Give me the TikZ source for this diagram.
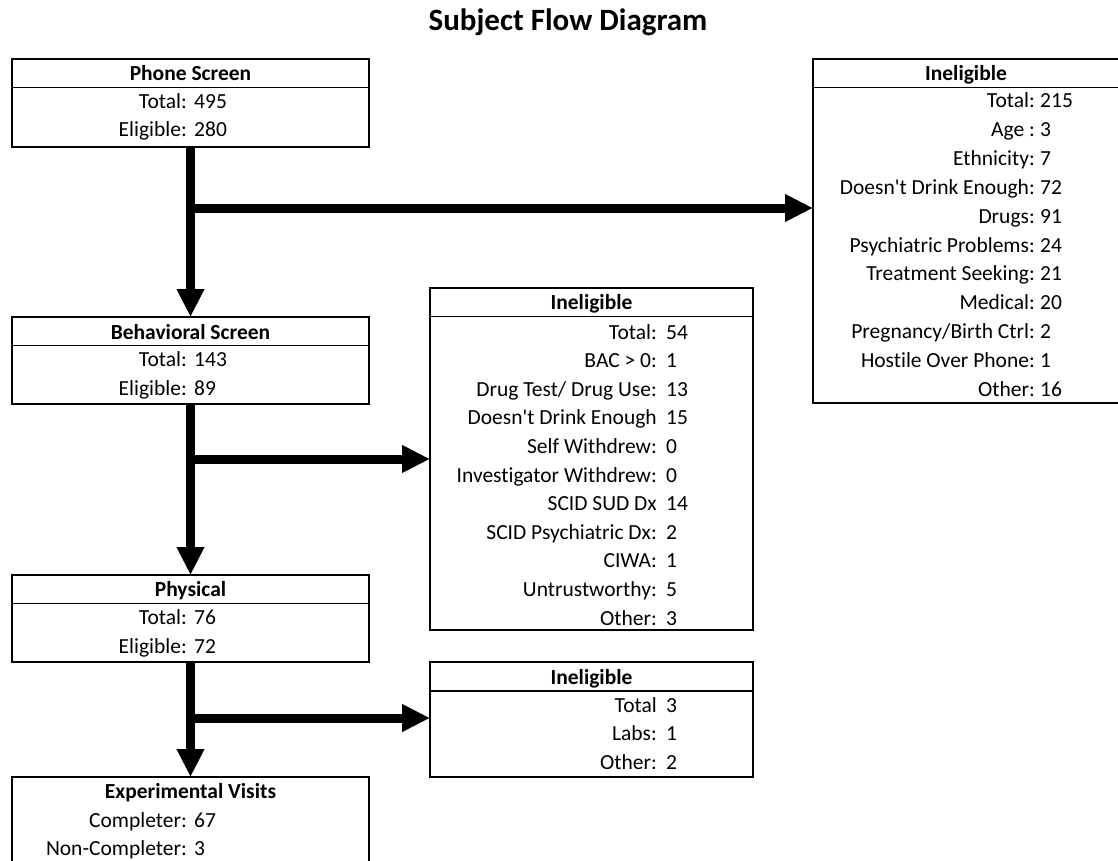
\documentclass[tikz,border=0pt]{standalone}
\usepackage{fontspec}
\setmainfont{Carlito}[Ligatures={TeXOff,NoCommon}]
\usetikzlibrary{arrows.meta,positioning}

\begin{document}
\begin{tikzpicture}[x=1pt,y=-1pt,
  every node/.style={font=\fontsize{21.5}{25}\selectfont, inner sep=0pt},
  stagebox/.style={draw, line width=2.8pt, outer sep=0pt, anchor=north west},
  headtxt/.style={font=\fontsize{21.5}{25}\selectfont\bfseries, anchor=base},
  labtxt/.style={anchor=base east},
  valtxt/.style={anchor=base west},
  sepline/.style={line width=1.2pt},
  flowarrow/.style={line width=9pt, -{Triangle[width=26pt,length=28pt]}}]
  \useasboundingbox (0,0) rectangle (1118,861);
  \clip (0,0) rectangle (1118,861);
  \fill[white] (0,0) rectangle (1118,861);

  \node[font=\fontsize{31}{36}\selectfont\bfseries, anchor=base] (title) at (568,31) {Subject Flow Diagram};

  \node[stagebox, minimum width=357pt, minimum height=88pt] (phone) at (12,59) {};
  \node[stagebox, minimum width=357pt, minimum height=87pt] (behav) at (12,317) {};
  \node[stagebox, minimum width=357pt, minimum height=87pt] (phys) at (12,575) {};
  \node[stagebox, minimum width=357pt, minimum height=130pt] (expvis) at (12,777) {};
  \node[stagebox, minimum width=340pt, minimum height=344pt] (inelA) at (813,59) {};
  \node[stagebox, minimum width=323pt, minimum height=342pt] (inelB) at (430,288) {};
  \node[stagebox, minimum width=323pt, minimum height=115pt] (inelC) at (430,662) {};

  \draw[sepline] ([yshift=-28.5pt]phone.north west) -- ([yshift=-28.5pt]phone.north east);
  \draw[sepline] ([yshift=-28.5pt]behav.north west) -- ([yshift=-28.5pt]behav.north east);
  \draw[sepline] ([yshift=-28.5pt]phys.north west) -- ([yshift=-28.5pt]phys.north east);
  \draw[sepline] ([yshift=-28.5pt]inelA.north west) -- ([yshift=-28.5pt]inelA.north east);
  \draw[sepline] ([yshift=-28.5pt]inelB.north west) -- ([yshift=-28.5pt]inelB.north east);
  \draw[sepline] ([yshift=-29pt]inelC.north west) -- ([yshift=-29pt]inelC.north east);

  \node[headtxt] (phone-h) at ([yshift=-22pt]phone.north) {Phone Screen};
  \node[headtxt] (behav-h) at ([yshift=-22pt]behav.north) {Behavioral Screen};
  \node[headtxt] (phys-h) at ([yshift=-21.5pt]phys.north) {Physical};
  \node[headtxt] (expvis-h) at ([yshift=-21.5pt]expvis.north) {Experimental Visits};
  \node[headtxt] (inelA-h) at (966,81) {Ineligible};
  \node[headtxt] (inelB-h) at ([yshift=-21.5pt]inelB.north) {Ineligible};
  \node[headtxt] (inelC-h) at ([yshift=-22pt]inelC.north) {Ineligible};

  \node[labtxt] (phone-l1) at (187,109) {Total:};
  \node[valtxt] (phone-v1) at (194,109) {495};
  \node[labtxt] (phone-l2) at (187,137) {Eligible:};
  \node[valtxt] (phone-v2) at (194,137) {280};

  \node[labtxt] (behav-l1) at (187,366) {Total:};
  \node[valtxt] (behav-v1) at (194,366) {143};
  \node[labtxt] (behav-l2) at (187,395) {Eligible:};
  \node[valtxt] (behav-v2) at (194,395) {89};

  \node[labtxt] (phys-l1) at (187,624) {Total:};
  \node[valtxt] (phys-v1) at (194,624) {76};
  \node[labtxt] (phys-l2) at (187,653) {Eligible:};
  \node[valtxt] (phys-v2) at (194,653) {72};

  \node[labtxt] (expvis-l1) at (187,827) {Completer:};
  \node[valtxt] (expvis-v1) at (194,827) {67};
  \node[labtxt] (expvis-l2) at (187,855) {Non-Completer:};
  \node[valtxt] (expvis-v2) at (194,855) {3};

  \foreach \lab/\val [count=\i] in {Total:/215, Age :/3, Ethnicity:/7,
      Doesn't Drink Enough:/72, Drugs:/91, Psychiatric Problems:/24,
      Treatment Seeking:/21, Medical:/20, {Pregnancy/Birth Ctrl:}/2,
      Hostile Over Phone:/1, Other:/16} {
    \node[labtxt] (inelA-l\i) at (1035,{108+(\i-1)*28.8}) {\lab};
    \node[valtxt] (inelA-v\i) at (1040,{108+(\i-1)*28.8}) {\val};
  }

  \foreach \lab/\val [count=\i] in {Total:/54, BAC > 0:/1, {Drug Test/ Drug Use:}/13,
      Doesn't Drink Enough/15, Self Withdrew:/0, Investigator Withdrew:/0,
      SCID SUD Dx/14, SCID Psychiatric Dx:/2, CIWA:/1, Untrustworthy:/5, Other:/3} {
    \node[labtxt] (inelB-l\i) at (657,{339+(\i-1)*28.6}) {\lab};
    \node[valtxt] (inelB-v\i) at (666,{339+(\i-1)*28.6}) {\val};
  }

  \foreach \lab/\val [count=\i] in {Total/3, Labs:/1, Other:/2} {
    \node[labtxt] (inelC-l\i) at (657,{712+(\i-1)*28.5}) {\lab};
    \node[valtxt] (inelC-v\i) at (666,{712+(\i-1)*28.5}) {\val};
  }

  \coordinate (split1) at (190,208);
  \coordinate (split2) at (190,459);
  \coordinate (split3) at (190,718);

  \draw[flowarrow] (phone.south) -- (behav.north);
  \draw[flowarrow] (phone.south |- split1) -- (split1 -| inelA.west);
  \draw[flowarrow] (behav.south) -- (phys.north);
  \draw[flowarrow] (behav.south |- split2) -- (split2 -| inelB.west);
  \draw[flowarrow] (phys.south) -- (expvis.north);
  \draw[flowarrow] (phys.south |- split3) -- (split3 -| inelC.west);
\end{tikzpicture}
\end{document}
